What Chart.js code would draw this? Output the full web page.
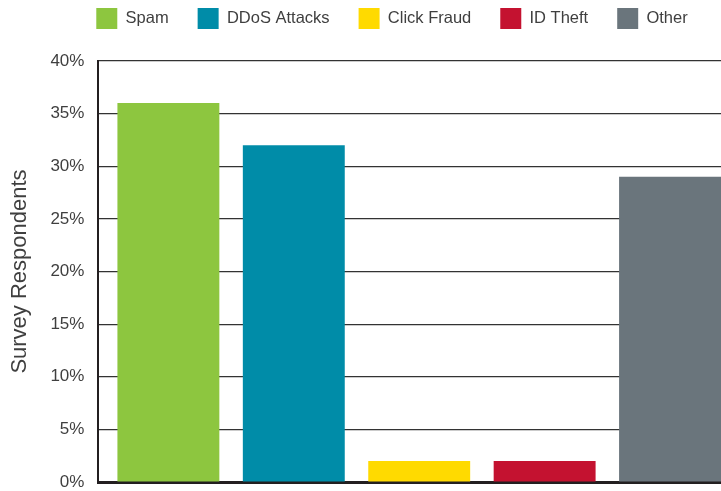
<!DOCTYPE html>
<html>
<head>
<meta charset="utf-8">
<script src="https://cdn.jsdelivr.net/npm/chart.js@4"></script>
<style>
  html, body { margin: 0; padding: 0; background: #fff; overflow: hidden; }
  #wrap { position: relative; width: 740px; height: 491px; }
</style>
</head>
<body>
<div id="wrap"><canvas id="threats"></canvas></div>
<script>
// ── Data ──────────────────────────────────────────────────────────────────────
const categories   = [""];
const seriesNames  = ["Spam", "DDoS Attacks", "Click Fraud", "ID Theft", "Other"];
const seriesValues = [36, 32, 2, 2, 29];
const seriesColors = ["#8dc63f", "#008ca8", "#ffda00", "#c41230", "#6a757c"];
const yTicks       = { min: 0, max: 40, step: 5 };

const TEXT = "#3f3f3f";
const FONT = "'Liberation Sans', Arial, Helvetica, sans-serif";

// legend sits a little right/up from where Chart.js would centre it
const legendNudge = {
  id: "legendNudge",
  afterLayout(chart) {
    const lg = chart.legend;
    if (!lg) return;
    lg.left += 22; lg.right += 22;
    lg.top -= 22;  lg.bottom -= 22;
  },
};

// scales shouldn't reserve extra room for half-height edge labels
function noEdgePadding(s) {
  s.paddingTop = 0;
  s.paddingBottom = 0;
}

const datasets = seriesNames.map((name, i) => ({
  label: name,
  data: [seriesValues[i]],
  backgroundColor: seriesColors[i],
  borderWidth: 0,
  categoryPercentage: 0.9774,
  barPercentage: 0.8127,
}));

new Chart(document.getElementById("threats"), {
  type: "bar",
  data: { labels: categories, datasets },
  plugins: [legendNudge],
  options: {
    responsive: true,
    maintainAspectRatio: false,
    animation: false,
    layout: { autoPadding: false, padding: { top: 1, bottom: 9 } },
    plugins: {
      tooltip: { enabled: false },
      legend: {
        position: "top",
        labels: {
          boxWidth: 21,
          boxHeight: 21,
          padding: 29,
          color: TEXT,
          font: { family: FONT, size: 16.5 },
        },
      },
    },
    scales: {
      x: {
        grid: { display: false, drawTicks: false },
        ticks: { display: false },
        border: { display: true, color: "#231f20", width: 3 },
        afterFit: s => { s.height = 0; noEdgePadding(s); },
      },
      y: {
        min: yTicks.min,
        max: yTicks.max,
        afterFit: noEdgePadding,
        ticks: {
          stepSize: yTicks.step,
          padding: 14,
          color: TEXT,
          font: { family: FONT, size: 17 },
          callback: v => v + "%",
        },
        grid: { color: "#333", lineWidth: 1.2, drawTicks: false },
        border: { color: "#231f20", width: 2 },
        title: {
          display: true,
          text: "Survey Respondents",
          color: TEXT,
          font: { family: FONT, size: 22 },
          padding: { top: 7, bottom: 3 },
        },
      },
    },
  },
});
</script>
</body>
</html>
